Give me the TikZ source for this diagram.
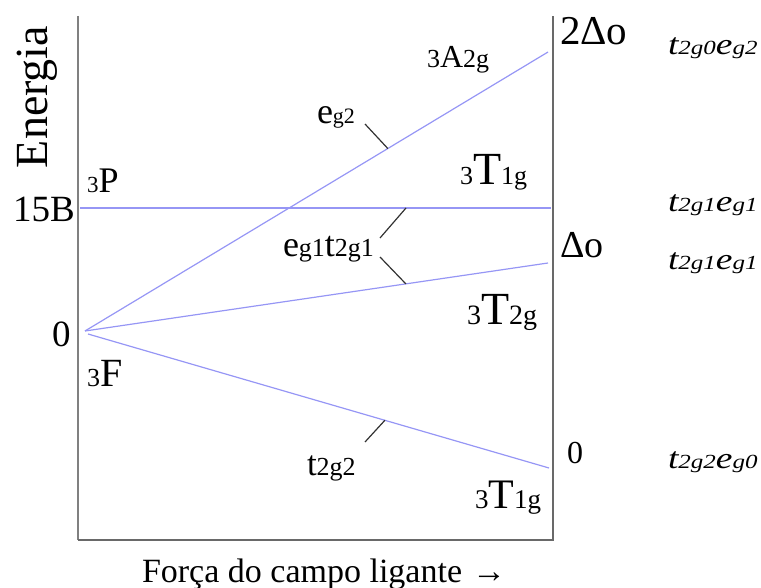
\documentclass[tikz,border=0pt]{standalone}
\usepackage{fontspec}
\setmainfont{Liberation Serif}
\usepackage{graphicx}
\usetikzlibrary{calc}
\definecolor{lvl}{RGB}{150,150,245}
\definecolor{axisc}{RGB}{105,105,105}
\definecolor{leadc}{RGB}{50,50,50}
\newcommand{\sz}[1]{\fontsize{#1}{#1}\selectfont}
\newcommand{\term}[5]{{\sz{#5}#1}{\sz{#4}#2}{\sz{#5}#3}}
\newcommand{\conf}[2]{\scalebox{1.25}[1]{\itshape{\sz{30}t}{\sz{20}#1}{\sz{30}e}{\sz{20}#2}}}
\begin{document}
\begin{tikzpicture}[x=1pt,y=-1pt,
  txt/.style={inner sep=0pt, outer sep=0pt, anchor=base west},
  lvlline/.style={draw=lvl, line width=1.2pt},
  leader/.style={draw=leadc, line width=1.2pt},
  frame/.style={draw=axisc, line width=2pt}]
\useasboundingbox (0,0) rectangle (761,588);
% frame
\coordinate (TL) at (78,16);
\coordinate (BL) at (78,540);
\coordinate (BR) at (553,540);
\coordinate (TR) at (553,16);
\draw[frame, draw=gray] (TL) -- (BL);
\draw[frame] (BL) -- (BR) -- (TR);
% levels
\coordinate (O) at (85,331);
\coordinate (O2) at (88,334);
\coordinate (A) at (548,52);
\coordinate (B) at (548,263);
\coordinate (C) at (549,468);
\coordinate (H1) at (80,208);
\coordinate (H2) at (551,208);
\draw[lvlline] (H1) -- (H2);
\draw[lvlline] (O) -- (A);
\draw[lvlline] (O) -- (B);
\draw[lvlline] (O2) -- (C);
% axis labels
\node[inner sep=0pt, rotate=90] (en) at (37,97) {\sz{46}Energia};
\node[txt] (b15) at (13,222) {\sz{37}15B};
\node[txt] (zl) at (52,346) {\sz{37}0};
\node[txt] (force) at (142,582) {\sz{34}Força do campo ligante\hspace{10pt}→};
% term labels
\node[txt] (P) at (87,193) {\term{3}{P}{}{36}{23}};
\node[txt] (F) at (87,386) {\term{3}{F}{}{40}{26}};
\node[txt] (A2g) at (427,68) {\term{3}{A}{2g}{32}{26}};
\node[txt] (T1gu) at (460,185) {\term{3}{T}{1g}{46}{26}};
\node[txt] (T2g) at (467,325) {\term{3}{T}{2g}{46}{28}};
\node[txt] (T1gl) at (475,508) {\term{3}{T}{1g}{42}{27}};
% orbital labels
\node[txt] (eg2) at (317,124) {\term{}{e}{g2}{36}{22}};
\node[txt] (egt) at (283,257) {\term{}{e}{g1}{36}{26}\term{}{t}{2g1}{36}{26}};
\node[txt] (t2g) at (307,475) {\term{}{t}{2g2}{35}{26}};
% right values
\node[txt] (d2) at (560,45) {\sz{41}2Δo};
\node[txt] (d1) at (560,258) {\sz{38}Δo};
\node[txt] (d0) at (567,463) {\sz{32}0};
\node[txt] (c1) at (668,55) {\conf{2g0}{g2}};
\node[txt] (c2) at (668,212) {\conf{2g1}{g1}};
\node[txt] (c3) at (668,270) {\conf{2g1}{g1}};
\node[txt] (c4) at (668,468) {\conf{2g2}{g0}};
% leaders
\coordinate (l1s) at (365,124);
\coordinate (l1e) at ($(O)!0.654!(A)$);
\coordinate (l2s) at (380,238);
\coordinate (l2e) at (406,208);
\coordinate (l3s) at (380,257);
\coordinate (l3e) at ($(O)!0.693!(B)$);
\coordinate (l4s) at (365,442);
\coordinate (l4e) at ($(O2)!0.644!(C)$);
\draw[leader] (l1s) -- (l1e);
\draw[leader] (l2s) -- (l2e);
\draw[leader] (l3s) -- (l3e);
\draw[leader] (l4s) -- (l4e);
\end{tikzpicture}
\end{document}
